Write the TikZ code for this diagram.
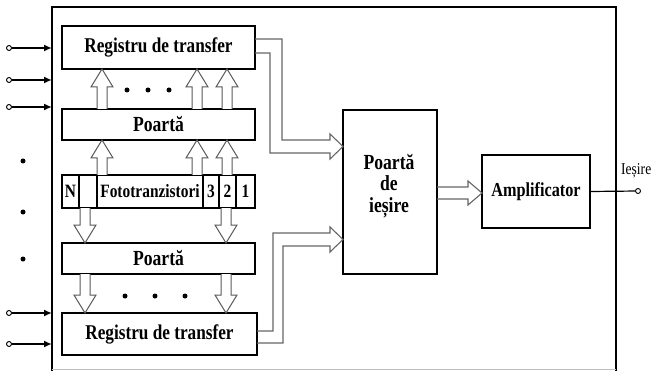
\documentclass[tikz,border=0pt]{standalone}
\usepackage{fontspec}
\setmainfont{Liberation Serif}[FakeStretch=0.82]
\usetikzlibrary{arrows.meta,calc}
\newcommand\fsz[1]{\fontsize{#1}{#1}\selectfont\bfseries}
% vertical hollow arrow: #1 = 1 (up) or -1 (down), #2 base, #3 tip
\newcommand\varrow[3]{%
  \draw[harrow] let \p1=#2, \p2=#3 in
   ({\x1-5pt},\y1) -- ({\x1-5pt},{\y2-#1*18pt}) -- ({\x1-11pt},{\y2-#1*18pt})
   -- (\x1,\y2) -- ({\x1+11pt},{\y2-#1*18pt}) -- ({\x1+5pt},{\y2-#1*18pt})
   -- ({\x1+5pt},\y1);}
\begin{document}
\begin{tikzpicture}[x=1pt,y=-1pt,
  box/.style={draw,line width=2.5pt,inner sep=0pt,outer sep=0pt},
  cell/.style={draw,line width=2pt,inner sep=0pt,outer sep=0pt,minimum height=33pt},
  harrow/.style={draw=black!65,line width=1pt,fill=white,line join=miter},
  pipe/.style={draw=black!60,line width=1.1pt,line join=miter},
  inarrow/.style={line width=1.8pt,-{Latex[length=8pt,width=7pt]}},
  term/.style={circle,draw,line width=0.9pt,inner sep=0pt,minimum size=5pt,fill=white},
  dot/.style={circle,fill=black,inner sep=0pt,minimum size=5pt}]
\useasboundingbox (0,0) rectangle (660,371);
% outer frame
\draw[line width=1.8pt] (52,371) -- (52,7) -- (616,7) -- (616,371);
\draw[black!25,line width=1pt] (52,369.5) -- (616,369.5);
\coordinate (fl) at (52,0);
% boxes
\node[box,minimum width=193pt,minimum height=43pt,font=\fsz{21}] (reg1) at (158.5,47.5) {Registru de transfer};
\node[box,minimum width=193pt,minimum height=31pt,font=\fsz{21.5}] (p1) at (158.5,124.5) {Poartă};
\node[cell,minimum width=17pt,font=\fsz{18.8}] (cN) at (70.5,191.5) {N};
\node[cell,minimum width=18pt] (cB) at (88,191.5) {};
\node[cell,minimum width=106pt,font=\fsz{18.8}] (cF) at (150,191.5) {Fototranzistori};
\node[cell,minimum width=16pt,font=\fsz{18.8}] (c3) at (211,191.5) {3};
\node[cell,minimum width=17pt,font=\fsz{18.8}] (c2) at (227.5,191.5) {2};
\node[cell,minimum width=19pt,font=\fsz{18.8}] (c1) at (245.5,191.5) {1};
\draw[line width=2.5pt] (62,175) rectangle (255,208);
\node[box,minimum width=193pt,minimum height=31pt,font=\fsz{21.5}] (p2) at (158.5,258.5) {Poartă};
\node[box,minimum width=195pt,minimum height=42pt,font=\fsz{21}] (reg2) at (159.5,334) {Registru de transfer};
\node[box,minimum width=94pt,minimum height=164pt] (gate) at (390,192) {};
\node[align=center,inner sep=0pt,font=\fsz{21.5}] (gatetxt) at ($(gate.center)+(-1,-6)$)
  {\fontsize{21.5}{25}\selectfont\bfseries Poartă\\de\\ieșire};
\node[box,minimum width=108pt,minimum height=73pt,font=\fsz{19.8}] (amp) at (536,191.5) {Amplificator};
% column coordinates
\coordinate (xa) at (102,0);
\coordinate (xb) at (197,0);
\coordinate (xc) at (227,0);
\coordinate (xd) at (85,0);
\coordinate (xe) at (226,0);
% hollow vertical arrows
\foreach \c in {xa,xb,xc}{
  \varrow{1}{(\c |- p1.north)}{(\c |- reg1.south)}
  \varrow{1}{(\c |- cF.north)}{(\c |- p1.south)}
}
\foreach \c in {xd,xe}{
  \varrow{-1}{(\c |- cF.south)}{(\c |- p2.north)}
  \varrow{-1}{(\c |- p2.south)}{(\c |- reg2.north)}
}
% dots
\foreach \x in {127,148,169} \node[dot] at (\x,90) {};
\foreach \x in {125,155,185} \node[dot] at (\x,296) {};
\foreach \y in {161,212,259} \node[dot] at (23,\y) {};
% pipes to output gate
\draw[pipe] (reg1.east |- 0,39) -- (282,39) -- (282,140) -- (330,140) -- (330,134)
  -- (gate.west |- 0,146.5) -- (330,159) -- (330,153) -- (270,153) -- (270,53) -- (reg1.east |- 0,53);
\draw[pipe] (reg2.east |- 0,331) -- (273,331) -- (273,233) -- (330,233) -- (330,227)
  -- (gate.west |- 0,239.5) -- (330,252) -- (330,246) -- (283,246) -- (283,343) -- (reg2.east |- 0,343);
\draw[pipe] (gate.east |- 0,187) -- (468,187) -- (468,181) -- (amp.west |- 0,193)
  -- (468,205) -- (468,199) -- (gate.east |- 0,199);
% input terminals
\foreach \n/\y in {i1/48,i2/80,i3/107,i4/313,i5/344}{
  \node[term] (\n) at (9,\y) {};
  \draw[inarrow] (\n) -- (fl |- \n);
}
% output
\node[term] (out) at (638,191) {};
\draw[line width=1.2pt] (amp.east) -- (out);
\node[font=\fontsize{16.5}{16.5}\selectfont,anchor=west,inner sep=0pt] (lbl) at (621,171) {Ieșire};
\end{tikzpicture}
\end{document}
